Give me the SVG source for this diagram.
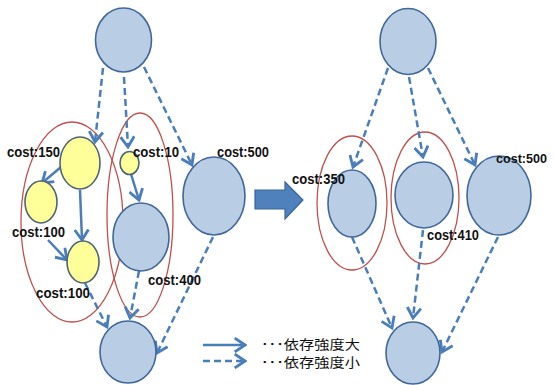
<svg xmlns="http://www.w3.org/2000/svg" width="555" height="385" viewBox="0 0 555 385">
<style>
.b{fill:#B9CDE5;stroke:#41679A;stroke-width:1.6}
.y{fill:#FFFF99;stroke:#4E6472;stroke-width:1.6}
.r{fill:none;stroke:#C0504D;stroke-width:1.3}
.s{fill:none;stroke:#4A7EBB;stroke-width:2.5;marker-end:url(#ah)}
.d{fill:none;stroke:#4A7EBB;stroke-width:2.5;stroke-dasharray:7 4;marker-end:url(#ah)}
.t{font-family:"Liberation Sans",Arial,sans-serif;font-weight:bold;font-size:15px;fill:#111}
.j{font-family:"Noto Sans CJK JP","Noto Sans",sans-serif;font-size:13px;fill:#111}
</style>
<defs>
<marker id="ah" markerUnits="userSpaceOnUse" markerWidth="16" markerHeight="16" viewBox="-12 -7 14 14" refX="0" refY="0" orient="auto">
<path d="M-9,-6 L0,0 L-9,6" fill="none" stroke="#4A7EBB" stroke-width="2.5"/>
</marker>
</defs>
<rect width="555" height="385" fill="#fff"/>
<g id="groups">
<ellipse class="r" cx="72" cy="222" rx="51" ry="100"/>
<ellipse class="r" cx="140" cy="215" rx="33" ry="102"/>
<ellipse class="r" cx="352" cy="203" rx="35" ry="67"/>
<ellipse class="r" cx="425" cy="198" rx="34" ry="66"/>
</g>
<g id="connectors">
<line class="d" x1="103" y1="68" x2="95" y2="142"/>
<line class="d" x1="124" y1="77" x2="128" y2="147"/>
<line class="d" x1="144" y1="67" x2="192" y2="165"/>
<line class="s" x1="61" y1="167" x2="42" y2="183"/>
<line class="s" x1="80" y1="190" x2="82" y2="240"/>
<line class="s" x1="48" y1="240" x2="67" y2="260"/>
<line class="s" x1="131" y1="174" x2="139" y2="200"/>
<line class="d" x1="85" y1="283" x2="107" y2="327"/>
<line class="d" x1="139" y1="271" x2="130" y2="318"/>
<line class="d" x1="213" y1="237" x2="157" y2="353"/>
<line class="d" x1="388" y1="68" x2="353" y2="167"/>
<line class="d" x1="409" y1="77" x2="423" y2="157"/>
<line class="d" x1="428" y1="68" x2="475" y2="165"/>
<line class="d" x1="352" y1="237" x2="392" y2="328"/>
<line class="d" x1="423" y1="230" x2="413" y2="318"/>
<line class="d" x1="498" y1="237" x2="442" y2="352"/>
</g>
<g id="n-top-l"><ellipse class="b" cx="123.5" cy="40" rx="28" ry="32"/></g>
<g id="n-150"><ellipse class="y" cx="80" cy="163" rx="20" ry="26"/><text class="t" x="7" y="157" textLength="53" lengthAdjust="spacingAndGlyphs">cost:150</text></g>
<g id="n-10"><ellipse class="y" cx="129.5" cy="163" rx="9.5" ry="11.5"/><text class="t" x="133" y="157" textLength="46" lengthAdjust="spacingAndGlyphs">cost:10</text></g>
<g id="n-500-l"><ellipse class="b" cx="214" cy="196" rx="31" ry="39"/><text class="t" x="217" y="157" textLength="52" lengthAdjust="spacingAndGlyphs">cost:500</text></g>
<g id="n-100a"><ellipse class="y" cx="41" cy="202" rx="16" ry="21"/><text class="t" x="12" y="237" textLength="53" lengthAdjust="spacingAndGlyphs">cost:100</text></g>
<g id="n-100b"><ellipse class="y" cx="83" cy="262" rx="16" ry="21"/><text class="t" x="36" y="298" textLength="54" lengthAdjust="spacingAndGlyphs">cost:100</text></g>
<g id="n-400"><ellipse class="b" cx="141" cy="237" rx="28" ry="34"/><text class="t" x="148" y="285" textLength="53" lengthAdjust="spacingAndGlyphs">cost:400</text></g>
<g id="n-bot-l"><ellipse class="b" cx="128" cy="352" rx="28" ry="31"/></g>
<g id="n-top-r"><ellipse class="b" cx="408" cy="41.5" rx="28" ry="33"/></g>
<g id="n-350"><ellipse class="b" cx="352" cy="203.5" rx="24" ry="33.5"/><text class="t" x="292" y="184" textLength="53" lengthAdjust="spacingAndGlyphs">cost:350</text></g>
<g id="n-410"><ellipse class="b" cx="424" cy="195" rx="29" ry="33"/><text class="t" x="427" y="240" textLength="52" lengthAdjust="spacingAndGlyphs">cost:410</text></g>
<g id="n-500-r"><ellipse class="b" cx="499" cy="195.5" rx="32" ry="39.5"/><text class="t" x="496" y="163" style="font-size:13.5px" textLength="51" lengthAdjust="spacingAndGlyphs">cost:500</text></g>
<g id="n-bot-r"><ellipse class="b" cx="413" cy="353" rx="27" ry="31"/></g>
<g id="big-arrow"><path d="M255,190 H285 V182 L303,200 L285,219 V209 H255 Z" fill="#4F81BD" stroke="#3A6496" stroke-width="1.2"/></g>
<g id="legend">
<line class="s" x1="203" y1="345" x2="245" y2="345"/>
<line class="d" x1="203" y1="361" x2="245" y2="361"/>
<text class="j" x="261" y="349" textLength="99" lengthAdjust="spacingAndGlyphs">･･･依存強度大</text>
<text class="j" x="261" y="367" textLength="99" lengthAdjust="spacingAndGlyphs">･･･依存強度小</text>
</g>
</svg>
